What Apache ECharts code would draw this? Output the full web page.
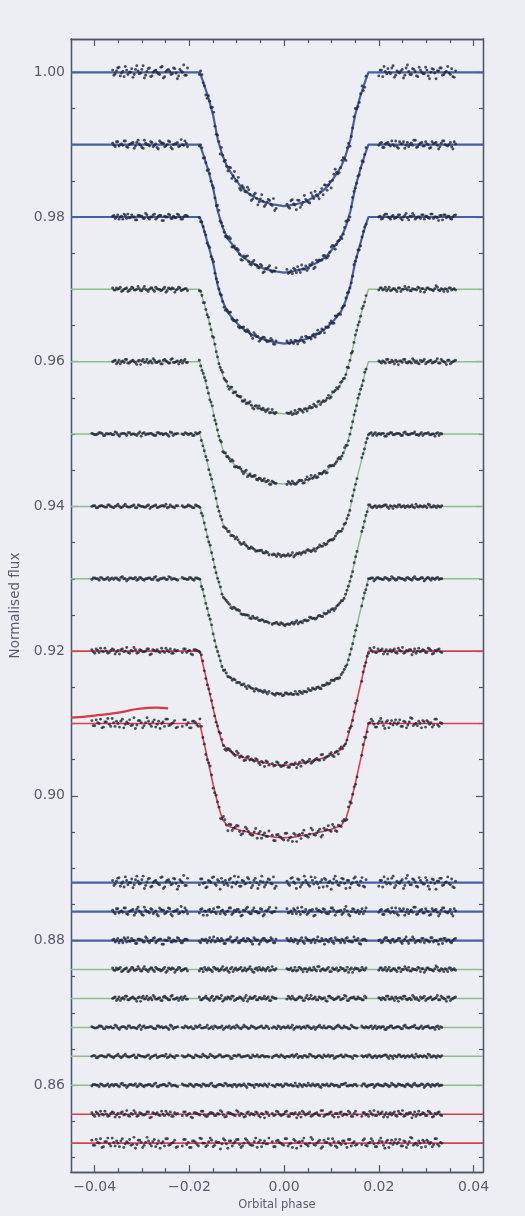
<!DOCTYPE html>
<html>
<head>
<meta charset="utf-8">
<title>Normalised flux vs orbital phase</title>
<script src="https://cdn.jsdelivr.net/npm/echarts@6.0.0/dist/echarts.min.js"></script>
<style>
  html, body { margin: 0; padding: 0; background: #eceef3; }
  #chart { width: 525px; height: 1216px; }
</style>
</head>
<body>
<div id="chart"></div>
<script>
'use strict';

// Flux level (out of transit) of each offset light curve, top to bottom
var curveLevels = [1.00, 0.99, 0.98, 0.97, 0.96, 0.95, 0.94, 0.93, 0.92, 0.91];
// Zero level of each residual row
var residLevels = [0.888, 0.884, 0.880, 0.876, 0.872, 0.868, 0.864, 0.860, 0.856, 0.852];

// Model knots (phase) and transit depth at each knot, in units of 1e-4 flux
var modelPhase = [-0.045, -0.0178, -0.017, -0.016, -0.015, -0.014, -0.013, -0.012, -0.0105, -0.009, -0.007, -0.0045, -0.002, 0,
  0.002, 0.0045, 0.007, 0.009, 0.0105, 0.012, 0.013, 0.014, 0.015, 0.016, 0.017, 0.0178, 0.042];
var modelDepth = [
  [0, 0, 15, 35, 59, 93, 115, 131, 146, 159, 170, 179, 183, 185, 183, 179, 170, 159, 146, 131, 115, 93, 59, 35, 15, 0, 0],
  [0, 0, 15, 36, 60, 92, 114, 129, 142, 154, 163, 171, 175, 177, 175, 171, 163, 154, 142, 129, 114, 92, 60, 36, 15, 0, 0],
  [0, 0, 16, 39, 63, 95, 116, 131, 143, 153, 162, 169, 173, 175, 173, 169, 162, 153, 143, 131, 116, 95, 63, 39, 16, 0, 0],
  [0, 0, 17, 40, 66, 96, 118, 131, 142, 152, 160, 166, 171, 172, 171, 166, 160, 152, 142, 131, 118, 96, 66, 40, 17, 0, 0],
  [0, 0, 18, 42, 68, 98, 120, 132, 142, 150, 158, 164, 168, 169, 168, 164, 158, 150, 142, 132, 120, 98, 68, 42, 18, 0, 0],
  [0, 0, 19, 45, 71, 101, 123, 134, 143, 151, 158, 163, 167, 168, 167, 163, 158, 151, 143, 134, 123, 101, 71, 45, 19, 0, 0],
  [0, 0, 20, 46, 73, 101, 123, 133, 141, 148, 153, 158, 162, 163, 162, 158, 153, 148, 141, 133, 123, 101, 73, 46, 20, 0, 0],
  [0, 0, 21, 47, 75, 102, 124, 134, 140, 146, 151, 156, 159, 160, 159, 156, 151, 146, 140, 134, 124, 102, 75, 47, 21, 0, 0],
  [0, 0, 22, 50, 79, 106, 128, 136, 142, 146, 150, 154, 157, 158, 157, 154, 150, 146, 142, 136, 128, 106, 79, 50, 22, 0, 0],
  [0, 0, 24, 54, 84, 111, 133, 141, 145, 148, 151, 154, 157, 158, 157, 154, 151, 148, 145, 141, 133, 111, 84, 54, 24, 0, 0]
];

// Phase coverage of the observations: four runs per row
var segUpper = [[-0.0362, -0.0204], [-0.0179, -0.0017], [0.0006, 0.0173], [0.0200, 0.0362]];
var segLower = [[-0.0406, -0.0225], [-0.0215, -0.0032], [-0.0025, 0.0154], [0.0164, 0.0333]];

// Residuals (data - model), units of 1e-4 flux, 30 points per run (even exposures)
var residA = [
  [3,-2,6,-5,1,8,-3,0,-7,4,2,-1,9,-4,5,-6,0,3,-2,7,-8,1,4,-3,6,-1,-5,2,10,-4,
   -3,5,0,-6,2,7,-2,4,-9,1,3,-4,6,0,-2,8,-5,2,-1,5,-7,3,0,-3,9,-6,1,4,-2,-8,
   2,-4,7,-1,5,-6,0,3,-3,8,-2,1,-7,4,6,-5,2,-1,9,-3,0,5,-8,3,-2,6,1,-4,7,-6,
   -5,3,8,-2,0,6,-7,2,-1,4,-4,10,-3,5,1,-6,3,-2,7,-5,0,4,-9,2,6,-3,1,-1,5,-7],
  [2,-3,4,0,-1,5,-4,1,3,-2,6,-1,-5,2,0,4,-3,1,-6,3,2,-2,5,-4,0,1,-3,7,-1,2,
   -2,4,1,-5,3,0,-1,6,-3,2,-4,1,5,-2,0,3,-6,2,4,-1,-3,5,0,-2,3,-4,1,6,-2,0,
   4,-1,-3,2,5,-4,0,3,-2,1,-6,4,2,-1,3,-3,0,5,-5,1,2,-2,7,-4,0,3,-1,-3,4,1,
   -1,3,-4,2,0,5,-2,-3,4,1,-5,3,0,-1,6,-3,2,-2,4,0,-4,1,3,-6,2,5,-1,0,-3,4],
  [1,-2,3,0,-3,2,4,-1,0,-4,2,1,-2,5,-1,0,3,-3,1,2,-5,0,4,-2,1,-1,3,-3,0,2,
   -1,2,0,-3,4,1,-2,3,-1,0,-4,2,5,-2,1,-3,0,3,-1,2,-2,4,0,-5,1,3,-2,0,2,-3,
   3,-1,0,2,-4,1,-2,4,0,-3,2,1,-1,3,-5,0,2,-2,4,1,-3,0,3,-1,-2,5,0,-4,1,2,
   0,-3,2,4,-1,1,-2,0,3,-4,2,-1,1,5,-3,0,-2,3,1,-1,4,-2,0,-5,2,3,-1,1,-3,2],
  [2,-1,0,3,-2,1,-3,0,2,-1,4,-2,1,0,-3,2,-1,3,0,-2,1,-4,2,0,1,-1,3,-2,0,1,
   -2,1,3,-1,0,-3,2,1,-1,4,0,-2,1,-3,2,0,3,-1,-2,1,0,-4,2,3,-1,0,1,-2,4,-1,
   1,0,-2,3,-1,2,-3,1,0,-1,3,-2,4,0,-1,1,-3,2,0,-2,3,1,-1,-4,2,0,1,-2,3,-1,
   -1,2,0,-2,3,-1,1,-3,2,0,4,-1,-2,1,0,3,-3,1,-1,2,0,-2,5,-1,1,-3,0,2,-1,1],
  [0,2,-1,-3,1,3,-2,0,2,-1,1,-4,3,0,-2,1,4,-1,0,-3,2,1,-2,3,-1,0,-3,2,1,-1,
   2,-2,1,0,-3,3,-1,2,0,-4,1,2,-1,3,-2,0,1,-3,4,-1,0,2,-2,1,-1,3,0,-3,2,0,
   -1,1,3,-2,0,2,-3,1,-1,4,0,-2,2,-1,1,-4,3,0,-1,2,-2,0,3,-3,1,2,-1,0,-2,3,
   1,-2,0,3,-1,2,-3,0,1,-1,3,-2,0,4,-1,-2,2,1,-3,0,2,-1,1,-2,3,0,-4,2,-1,1],
  [1,-1,0,2,-2,1,0,-1,3,-1,0,1,-2,2,0,-1,1,-3,2,0,1,-1,-2,2,1,0,-1,3,-2,0,
   0,2,-1,1,-2,0,3,-1,0,-2,1,2,-1,0,-3,1,2,0,-1,1,-2,3,0,-1,1,-2,0,2,-1,1,
   -1,0,2,-2,1,0,-1,3,-1,0,-2,1,2,0,-1,-3,1,0,2,-1,1,-2,0,3,-1,2,0,-2,1,-1,
   2,-1,0,1,-2,2,0,-1,1,-3,0,2,-1,1,0,-2,3,-1,0,1,-1,-2,2,0,1,-1,0,-3,2,1],
  [0,1,-2,1,0,-1,2,-1,0,3,-2,1,0,-1,1,-2,2,0,-1,1,-3,0,2,-1,1,0,-2,2,-1,1,
   1,-1,2,0,-2,1,-1,3,0,-1,1,-2,0,2,-1,1,0,-3,1,2,-1,0,1,-2,2,0,-1,1,-1,0,
   -2,1,0,2,-1,0,-1,2,1,-2,0,1,-1,3,0,-2,1,-1,2,0,-1,1,-2,0,2,-1,1,0,-3,1,
   1,0,-1,2,-2,1,0,-1,1,2,-3,0,1,-1,2,0,-2,1,0,-1,3,-1,0,1,-2,2,-1,0,1,-1],
  [-1,1,0,2,-1,0,-2,1,1,-1,2,0,-3,1,0,2,-1,1,-2,0,1,-1,3,-2,0,1,-1,2,0,-1,
   2,0,-1,1,-2,1,0,2,-1,-1,3,-2,0,1,-1,2,0,-2,1,0,-1,2,-3,1,0,1,-1,0,2,-2,
   0,-2,1,1,-1,2,0,-1,3,-2,0,1,-1,0,2,-1,1,-3,0,2,-1,1,0,-2,1,2,-1,0,-1,1,
   -1,2,-2,0,1,-1,2,0,-1,1,-2,3,0,-1,1,0,-2,2,-1,1,0,-1,2,-3,1,0,1,-1,2,0],
  [2,-3,1,4,-1,0,-2,3,-4,1,2,-1,5,-3,0,2,-2,1,-1,3,-5,2,0,-1,4,-2,1,3,-3,0,
   -2,3,0,-4,2,1,-1,4,-3,0,2,-2,1,5,-1,-3,2,0,-2,3,1,-4,2,-1,0,3,-2,1,-5,2,
   1,-1,3,-2,0,4,-3,1,2,-1,-4,2,0,3,-2,1,-1,5,-3,0,2,-2,1,-4,3,0,-1,2,-3,4,
   -3,2,0,4,-1,-2,3,1,-4,2,0,-1,3,-3,1,5,-2,0,2,-1,-3,4,0,1,-2,3,-4,1,2,-1],
  [4,-3,1,6,-5,2,-1,7,-4,0,3,-6,2,5,-2,-7,4,1,-3,8,-1,2,-5,3,0,-4,6,-2,1,-6,
   -4,5,1,-6,3,-2,7,0,-5,2,4,-3,1,-8,6,-1,3,-4,2,5,-6,0,4,-2,-3,7,1,-5,3,-1,
   2,-5,4,0,-3,6,-1,-6,3,1,-4,7,-2,0,5,-3,2,-7,4,1,-1,6,-4,2,-2,3,-6,5,0,-3,
   -2,6,-4,1,3,-5,0,7,-3,2,-6,4,1,-1,5,-4,2,-2,8,-3,0,3,-6,2,4,-1,-5,6,-2,1]
];
// Residuals of the odd exposures, same units and layout
var residB = [
  [-4,2,7,-1,-6,3,0,5,-3,9,-2,4,-8,1,6,-5,2,0,-3,8,-6,3,1,-2,5,-9,4,0,-4,6,
   5,-1,-7,3,0,8,-4,2,6,-3,-1,4,-6,9,1,-5,3,-2,7,0,-4,6,-8,2,1,-3,5,-1,8,-5,
   -2,6,1,-8,4,-3,9,0,-5,3,7,-2,1,-6,4,0,-9,5,2,-4,6,-1,3,-7,0,8,-3,2,-5,4,
   3,-6,1,5,-2,9,-4,0,2,-8,6,1,-3,4,-5,7,0,-2,3,-9,5,-1,2,6,-4,0,8,-3,-6,2],
  [-1,4,-2,1,5,-3,0,2,-5,3,1,-4,6,0,-2,3,-1,-4,5,2,-3,0,4,-6,1,3,-2,0,5,-3,
   3,-5,0,2,-1,4,-3,6,1,-2,0,5,-4,2,3,-1,-5,1,6,-3,2,0,-2,4,-6,1,3,-1,0,5,
   -2,1,4,-3,0,6,-1,-4,2,3,-5,1,0,4,-2,-3,5,2,-1,0,-4,3,1,-6,4,-1,2,0,-3,5,
   2,-4,1,3,-2,0,5,-5,1,4,-1,-3,2,6,-4,0,3,-2,1,-5,4,2,-1,-3,5,0,-2,3,-6,1],
  [2,0,-3,1,4,-2,-1,3,0,-4,2,1,-2,3,-3,0,4,-1,2,-5,1,0,3,-2,-1,4,0,-3,2,1,
   -3,1,2,0,-2,5,-1,0,3,-4,1,2,-2,0,4,-3,1,-1,3,0,-5,2,1,-2,3,0,-1,4,-3,2,
   0,3,-2,1,-1,4,-4,2,0,1,-3,5,-1,0,2,-2,3,-4,1,0,2,-3,4,-1,-2,1,3,-5,2,0,
   1,-2,4,0,-3,2,-1,3,-2,0,5,-4,1,2,-1,0,3,-3,1,-2,4,0,-1,2,-4,3,1,-2,0,3],
  [-1,2,1,-3,0,2,-2,3,-1,0,1,-2,4,-1,0,2,-3,1,0,-1,3,-2,1,2,-4,0,2,-1,1,-2,
   1,-3,0,2,-1,3,0,-2,1,-1,2,-4,3,0,-1,1,-2,2,0,4,-3,1,-1,0,2,-2,3,-1,0,1,
   0,2,-1,-2,3,0,1,-3,2,-1,0,4,-2,1,-1,3,-3,0,2,-1,1,-2,3,0,-4,2,1,-1,0,2,
   2,-1,3,0,-2,1,-1,2,-3,0,1,3,-2,0,-1,2,1,-4,2,0,-1,1,3,-2,0,1,-3,2,0,-1],
  [1,-3,2,0,-1,3,-2,1,0,-4,2,1,-1,3,0,-2,2,-1,1,-3,3,0,-2,4,-1,1,0,-2,3,-1,
   -2,0,3,-1,1,-3,2,0,4,-2,-1,1,3,-3,0,2,-1,1,-4,2,0,3,-2,1,0,-1,2,-3,1,0,
   3,-1,0,-2,2,1,-3,4,0,-1,2,-2,1,0,-3,3,1,-2,0,2,-1,4,-3,0,1,-1,2,0,-2,1,
   0,1,-2,3,-1,0,2,-4,1,3,-1,0,-2,2,1,-3,0,3,-1,1,-2,0,4,-2,1,-1,2,-3,0,2],
  [0,-1,2,1,-2,0,1,-1,2,-3,1,0,2,-1,0,-2,3,1,-1,0,1,-2,2,0,-1,1,-3,2,0,1,
   -1,1,0,-2,2,1,-1,0,3,-1,-2,1,0,2,-1,0,-2,1,3,-1,0,1,-2,2,0,-1,1,-1,2,-2,
   1,-2,1,0,-1,2,0,-3,1,1,0,-1,2,-2,1,0,3,-1,-1,1,0,-2,2,1,-1,0,-2,3,0,-1,
   0,1,-1,2,0,-2,1,1,-3,0,2,-1,0,1,-2,2,0,-1,1,3,-1,0,-2,1,2,-1,0,1,-2,0],
  [1,-2,0,1,-1,2,0,-2,1,0,-1,3,-1,0,2,-2,1,0,-1,2,-1,1,-2,0,1,3,-1,0,-2,1,
   -1,0,1,-2,2,0,-1,1,-2,3,0,-1,2,-1,0,1,-3,1,0,2,-1,0,1,-2,0,2,-1,1,0,-1,
   0,2,-1,1,-2,0,1,-1,3,0,-2,1,-1,2,0,-1,1,-2,0,2,1,-3,0,1,-1,2,0,-1,1,0,
   -1,1,2,-1,0,-2,1,0,2,-1,1,-3,0,2,-1,1,0,-1,2,-2,0,1,-1,0,3,-1,1,-2,0,1],
  [1,0,-2,1,-1,2,0,-1,1,-2,3,0,-1,1,0,-2,2,-1,0,1,-1,2,-2,0,1,-1,3,-1,0,-2,
   0,-1,2,-1,1,0,-2,1,0,2,-1,-2,1,0,3,-1,0,1,-2,1,0,-1,2,0,-3,1,1,-1,0,2,
   -1,1,0,-2,2,0,1,-1,-1,2,-2,0,3,-1,0,1,-2,1,0,-1,2,-1,0,-2,1,3,-1,0,1,-1,
   2,-1,0,1,-3,1,0,-1,2,0,-1,1,-2,2,0,-1,1,0,-2,3,-1,0,1,-1,2,-2,0,1,-1,0],
  [-1,3,-2,0,4,-3,1,2,-1,-4,3,0,-2,1,5,-3,2,-1,0,3,-4,1,2,-2,0,4,-1,-3,2,1,
   3,-2,1,-5,2,0,4,-1,-3,2,1,-2,0,3,-4,2,1,-1,5,-2,0,-3,3,1,-1,2,-4,0,3,-2,
   -2,4,0,-1,3,-3,1,0,-5,2,4,-1,1,-3,0,2,-2,5,-1,0,3,-4,1,2,-2,0,4,-3,1,-1,
   2,-1,-3,1,5,-2,0,3,-1,-4,2,1,-2,4,0,-3,1,2,-5,3,0,-1,2,-2,4,1,-3,0,3,-2],
  [-3,5,0,-6,2,7,-4,1,3,-5,6,-1,0,-3,8,-2,4,-6,1,3,-4,5,-1,-7,2,6,-3,0,4,-5,
   5,-2,-6,3,1,-4,6,0,-3,7,-5,2,1,-1,4,-7,3,0,5,-2,-4,6,1,-3,2,-6,4,0,-1,7,
   -5,3,1,-2,6,-4,0,5,-7,2,3,-1,-4,8,-2,0,4,-5,1,6,-3,2,-6,0,3,-1,5,-4,2,-2,
   4,-3,0,6,-1,-5,3,2,-7,4,0,-2,5,1,-4,3,-6,2,7,-1,-3,0,4,-5,2,1,-2,6,-4,0]
];

// Hand-drawn red pen stroke on the page
var penPhase = [-0.045, -0.040, -0.035, -0.031, -0.027, -0.0245];
var penFlux = [0.9108, 0.9111, 0.9115, 0.9120, 0.9122, 0.9121];

// Axis ticks
var xMajor = [-0.04, -0.02, 0, 0.02, 0.04];
var xMinor = [-0.035, -0.03, -0.025, -0.015, -0.01, -0.005, 0.005, 0.01, 0.015, 0.025, 0.03, 0.035];
var yMajor = [0.86, 0.88, 0.90, 0.92, 0.94, 0.96, 0.98, 1.00];
var yMinor = [0.85, 0.855, 0.865, 0.87, 0.875, 0.885, 0.89, 0.895, 0.905, 0.91, 0.915, 0.925, 0.93, 0.935,
  0.945, 0.95, 0.955, 0.965, 0.97, 0.975, 0.985, 0.99, 0.995];

function modelAt(depths, p) {
  for (var k = 1; k < modelPhase.length; k++) {
    if (p <= modelPhase[k]) {
      var f = (p - modelPhase[k - 1]) / (modelPhase[k] - modelPhase[k - 1]);
      return depths[k - 1] + f * (depths[k] - depths[k - 1]);
    }
  }
  return depths[depths.length - 1];
}

(function() {
  var chart = echarts.init(document.getElementById('chart'), null, { renderer: 'canvas' });
  var frame = '#50566a', ink = '#585d6a', dot = '#23273a';
  var blue = '#4660a8', green = '#8fbc8c', red = '#d8404f';
  var colors = [blue, blue, blue, green, green, green, green, green, red, red];
  var widths = [2.2, 2.2, 2.2, 1.5, 1.5, 1.5, 1.5, 1.5, 1.6, 1.6];
  var xMin = -0.045, xMax = 0.042, yMin = 0.848, yMax = 1.0046;

  var series = [];
  var lcDots = [], resDots = [];

  curveLevels.forEach(function(level, i) {
    var depths = modelDepth[i];
    series.push({
      type: 'line', z: 1, symbol: 'none', silent: true,
      lineStyle: { color: colors[i], width: widths[i] },
      data: modelPhase.map(function(p, k) { return [p, level - depths[k] * 1e-4]; })
    });
    series.push({
      type: 'line', z: 1, symbol: 'none', silent: true,
      lineStyle: { color: colors[i], width: widths[i] },
      data: [[xMin, residLevels[i]], [xMax, residLevels[i]]]
    });
    var segs = i < 5 ? segUpper : segLower;
    [residA[i], residB[i]].forEach(function(rs, b) {
      segs.forEach(function(seg, s) {
        for (var j = 0; j < 30; j++) {
          var p = seg[0] + (seg[1] - seg[0]) * (2 * j + b) / 59;
          var r = rs[s * 30 + j] * 1e-4;
          lcDots.push([p, level - modelAt(depths, p) * 1e-4 + r]);
          resDots.push([p, residLevels[i] + r]);
        }
      });
    });
  });

  series.push({
    type: 'scatter', z: 2, silent: true, symbol: 'circle', symbolSize: 2.9,
    itemStyle: { color: dot }, data: lcDots
  });
  series.push({
    type: 'scatter', z: 2, silent: true, symbol: 'circle', symbolSize: 2.9,
    itemStyle: { color: dot }, data: resDots
  });
  series.push({
    type: 'line', z: 3, symbol: 'none', silent: true, smooth: true,
    lineStyle: { color: '#d9384a', width: 2.2 },
    data: penPhase.map(function(p, k) { return [p, penFlux[k]]; })
  });

  function fmt(v) {
    var s = Math.abs(v).toFixed(2);
    return v < -1e-9 ? '\u2212' + s : s;
  }
  var lbl = { color: ink, fontFamily: 'DejaVu Sans', fontSize: 14 };

  function xAx(pos, ticks, len, labels) {
    return {
      type: 'value', position: pos, min: xMin, max: xMax,
      axisLine: { show: true, onZero: false, lineStyle: { color: frame, width: 1.3 } },
      axisTick: { show: true, inside: true, length: len, customValues: ticks, lineStyle: { color: frame, width: 1.2 } },
      axisLabel: labels ? Object.assign({ customValues: ticks, formatter: fmt, margin: 8 }, lbl) : { show: false },
      splitLine: { show: false }
    };
  }
  function yAx(pos, ticks, len, labels) {
    return {
      type: 'value', position: pos, min: yMin, max: yMax,
      axisLine: { show: true, onZero: false, lineStyle: { color: frame, width: 1.3 } },
      axisTick: { show: true, inside: true, length: len, customValues: ticks, lineStyle: { color: frame, width: 1.2 } },
      axisLabel: labels ? Object.assign({ customValues: ticks, formatter: fmt, margin: 6 }, lbl) : { show: false },
      splitLine: { show: false }
    };
  }

  var xb = xAx('bottom', xMajor, 7, true);
  xb.name = 'Orbital phase';
  xb.nameLocation = 'middle';
  xb.nameGap = 26;
  xb.nameTextStyle = { color: ink, fontFamily: 'DejaVu Sans', fontSize: 11.5 };
  var yl = yAx('left', yMajor, 7, true);
  yl.name = 'Normalised flux';
  yl.nameLocation = 'middle';
  yl.nameGap = 43;
  yl.nameTextStyle = { color: ink, fontFamily: 'DejaVu Sans', fontSize: 13.5 };

  chart.setOption({
    animation: false,
    backgroundColor: '#eceef3',
    grid: { left: 71, top: 39, width: 412, height: 1137, containLabel: false },
    xAxis: [xb, xAx('bottom', xMinor, 4, false), xAx('top', xMajor, 7, false), xAx('top', xMinor, 4, false)],
    yAxis: [yl, yAx('left', yMinor, 4, false), yAx('right', yMajor, 7, false), yAx('right', yMinor, 4, false)],
    series: series
  });
  window.addEventListener('resize', function() { chart.resize(); });
})();
</script>
</body>
</html>
